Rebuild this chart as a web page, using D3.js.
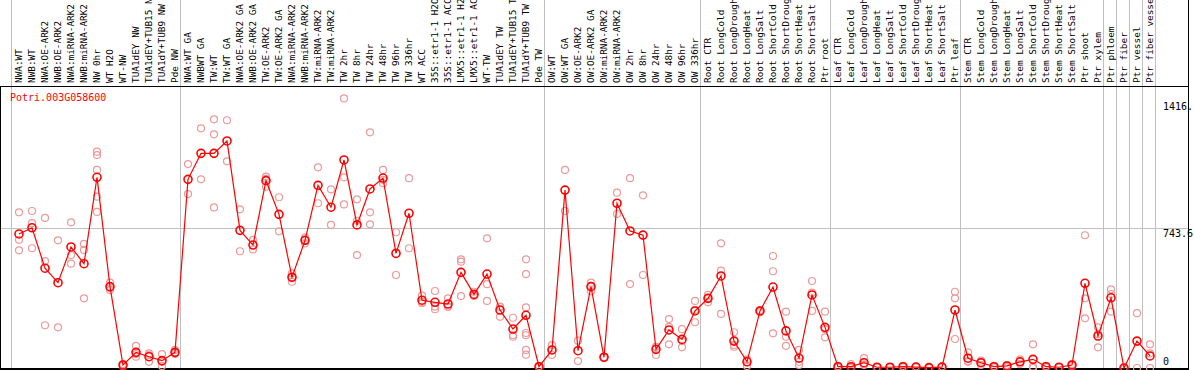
<html>
<head>
<style>
body { margin: 0; background: #ffffff; }
svg { display: block; }
svg text { font-family: "DejaVu Sans Mono", "Liberation Mono", monospace; }
.lab { font-size: 9.4px; fill: #000; }
.tick { font-size: 10px; fill: #000; }
.title { font-size: 10px; fill: #ff0000; }
</style>
<script src="https://cdn.jsdelivr.net/npm/d3@7"></script>
</head>
<body>
<svg width="1194" height="370"></svg>
<script>

var title = "Potri.003G058600";

var categories = [
  "NWA:WT", "NWB:WT", "NWA:OE-ARK2", "NWB:OE-ARK2", "NWA:miRNA-ARK2", "NWB:miRNA-ARK2",
  "NW 0hr", "WT H2O", "WT-NW", "TUA1dEY NW", "TUA1dEY+TUB15 NW", "TUA1dY+TUB9 NW", "Pde NW",
  "NWA:WT GA", "NWBWT GA", "TW:WT", "TW:WT GA", "NWA:OE-ARK2 GA", "NWB:OE-ARK2 GA",
  "TW:OE-ARK2", "TW:OE-ARK2 GA", "NWA:miRNA-ARK2 GA", "NWB:miRNA-ARK2 GA", "TW:miRNA-ARK2",
  "TW:miRNA-ARK2", "TW 2hr", "TW 8hr", "TW 24hr", "TW 48hr", "TW 96hr", "TW 336hr", "WT ACC",
  "35S::etr1-1 H2O", "35S::etr1-1 ACC", "LMX5::etr1-1 H2O", "LMX5::etr1-1 ACC", "WT-TW",
  "TUA1dEY TW", "TUA1dEY+TUB15 TW", "TUA1dY+TUB9 TW", "Pde TW",
  "OW:WT", "OW:WT GA", "OW:OE-ARK2", "OW:OE-ARK2 GA", "OW:miRNA-ARK2", "OW:miRNA-ARK2",
  "OW 2hr", "OW 8hr", "OW 24hr", "OW 48hr", "OW 96hr", "OW 336hr",
  "Root CTR", "Root LongCold", "Root LongDrought", "Root LongHeat", "Root LongSalt",
  "Root ShortCold", "Root ShortDrought", "Root ShortHeat", "Root ShortSalt", "Ptr root",
  "Leaf CTR", "Leaf LongCold", "Leaf LongDrought", "Leaf LongHeat", "Leaf LongSalt",
  "Leaf ShortCold", "Leaf ShortDrought", "Leaf ShortHeat", "Leaf ShortSalt", "Ptr leaf",
  "Stem CTR", "Stem LongCold", "Stem LongDrought", "Stem LongHeat", "Stem LongSalt",
  "Stem ShortCold", "Stem ShortDrought", "Stem ShortHeat", "Stem ShortSalt", "Ptr shoot",
  "Ptr xylem", "Ptr phloem", "Ptr fiber", "Ptr vessel", "Ptr fiber vessel"
];

// column index where each group starts (separators)
var groupStarts = [0, 13, 41, 53, 63, 73, 84, 85, 86, 87, 88];

var means = [
  712, 745, 530, 453, 643, 554, 1013, 432, 16, 83, 60, 39, 83,
  1002, 1140, 1140, 1206, 731, 653, 995, 816, 482, 678, 970, 854, 1105, 760, 951, 1009,
  609, 822, 360, 349, 340, 508, 391, 499, 308, 207, 280, 7,
  96, 945, 92, 432, 57, 875, 728, 706, 99, 202, 152, 303,
  370, 489, 143, 33, 303, 430, 197, 52, 388, 216,
  7, 7, 28, 4, 4, 7, 5, 2, 5, 308,
  52, 28, 7, 11, 33, 46, 7, 4, 16, 450, 170,
  373, 0, 143, 64
];

var replicates = [
  [827, 681, 625], [834, 769, 636], [797, 568, 227], [678, 216], [774, 600, 554],
  [659, 627, 370], [1149, 1131, 1052, 910, 829], [453, 425, 414], [21, 11, 16],
  [117, 60, 74], [78, 69, 33], [74, 32, 11], [96, 80, 74],
  [1083, 924], [1273, 1002], [1321, 1241, 853], [1316, 1098], [843, 620], [680, 630],
  [1016, 1004, 963], [907, 726], [503, 483, 458], [692, 680, 662], [1066, 875], [949, 760],
  [1432, 1013, 869], [896, 782, 600], [1252, 827, 763], [1052, 999, 981], [721, 494],
  [1008, 636], [384, 351, 344], [409, 326, 312], [370, 326, 324], [577, 565, 382],
  [405, 388, 382], [689, 445, 356], [326, 324, 272], [267, 175, 166],
  [577, 499, 322, 186, 174, 96, 71], [11, 5, 5],
  [122, 96, 69], [1052, 834], [145, 37], [453, 436, 407], [58, 57, 56], [931, 818],
  [1008, 446], [917, 494], [113, 112, 69], [260, 218, 126], [206, 143, 110], [356, 308, 243],
  [388, 372, 349], [662, 517, 287], [190, 122, 113], [46, 42, 11], [308, 303, 297],
  [595, 514, 184], [299, 166, 118], [96, 33, 16], [462, 400, 303], [299, 206, 163],
  [11, 5, 5], [21, 5, 0], [52, 19, 16], [5, 3, 3], [5, 3, 3], [11, 5, 5], [8, 5, 3],
  [3, 2, 1], [8, 5, 3], [405, 370, 154],
  [83, 37, 33], [39, 29, 16], [11, 5, 5], [16, 11, 5], [46, 33, 21], [126, 7, 0],
  [11, 5, 5], [5, 3, 3], [21, 16, 11], [705, 370, 264], [216, 181, 110],
  [418, 393, 299], [0, 0, 0], [291, 0], [126, 78, 0]
];

var yMax = 1487.2;
var gridValues = [743.6];
var tickValues = [1416, 743.6, 0];
var tickLabels = ["1416.", "743.6", "0"];

var svg = d3.select("svg"),
    width = +svg.attr("width"),
    height = +svg.attr("height");

var headerBottom = 86,
    plotRight = 1188;

var x = d3.scaleBand()
    .domain(d3.range(categories.length))
    .range([11, 1155])
    .paddingInner(0).paddingOuter(0);

var y = d3.scaleLinear()
    .domain([0, yMax])
    .range([368, 88]);

function cx(i) { return x(i) + 8; }

// grey separators, full height
svg.append("g").selectAll("line")
    .data(groupStarts)
    .enter().append("line")
    .attr("x1", function(d) { return d < categories.length ? x(d) : x.range()[1]; })
    .attr("x2", function(d) { return d < categories.length ? x(d) : x.range()[1]; })
    .attr("y1", 0).attr("y2", height)
    .attr("stroke", "#c0c0c0").attr("stroke-width", 1)
    .attr("shape-rendering", "crispEdges");

// horizontal grid
svg.append("g").selectAll("line")
    .data(gridValues)
    .enter().append("line")
    .attr("x1", 0).attr("x2", plotRight)
    .attr("y1", function(d) { return Math.round(y(d)) + 0.5; })
    .attr("y2", function(d) { return Math.round(y(d)) + 0.5; })
    .attr("stroke", "#c0c0c0");

// frame
svg.append("line").attr("x1", 0).attr("x2", plotRight).attr("y1", headerBottom + 0.5).attr("y2", headerBottom + 0.5)
    .attr("stroke", "#000");
svg.append("line").attr("x1", 0).attr("x2", plotRight).attr("y1", 369).attr("y2", 369)
    .attr("stroke", "#000").attr("stroke-width", 2);
svg.append("line").attr("x1", 0.5).attr("x2", 0.5).attr("y1", headerBottom).attr("y2", height)
    .attr("stroke", "#000");
svg.append("line").attr("x1", plotRight + 0.5).attr("x2", plotRight + 0.5).attr("y1", 0).attr("y2", height)
    .attr("stroke", "#000");

// column labels
svg.append("g").selectAll("text")
    .data(categories)
    .enter().append("text")
    .attr("class", "lab")
    .attr("transform", function(d, i) { return "translate(" + (cx(i) + 3) + "," + (headerBottom - 3) + ") rotate(-90)"; })
    .text(function(d) { return d; });

// replicate points
var reps = [];
replicates.forEach(function(r, i) { r.forEach(function(v) { reps.push({i: i, v: v}); }); });
svg.append("g").selectAll("circle")
    .data(reps)
    .enter().append("circle")
    .attr("cx", function(d) { return cx(d.i); })
    .attr("cy", function(d) { return y(d.v); })
    .attr("r", 3.5)
    .attr("fill", "none")
    .attr("stroke", "#ec9a9a")
    .attr("stroke-width", 1.2);

// mean line
var line = d3.line()
    .x(function(d, i) { return cx(i); })
    .y(function(d) { return y(d); });
svg.append("path")
    .datum(means)
    .attr("d", line)
    .attr("fill", "none")
    .attr("stroke", "#ff0000")
    .attr("stroke-width", 1.2);

svg.append("g").selectAll("circle")
    .data(means)
    .enter().append("circle")
    .attr("cx", function(d, i) { return cx(i); })
    .attr("cy", function(d) { return y(d); })
    .attr("r", 4)
    .attr("fill", "none")
    .attr("stroke", "#ff0000")
    .attr("stroke-width", 1.6);

// y labels on right
svg.append("g").selectAll("text")
    .data(tickValues)
    .enter().append("text")
    .attr("class", "tick")
    .attr("x", 1163)
    .attr("y", function(d) { return y(d); })
    .attr("dy", function(d) { return d === 0 ? -3 : 8.5; })
    .text(function(d, i) { return tickLabels[i]; });

svg.append("text")
    .attr("class", "title")
    .attr("x", 10)
    .attr("y", 101)
    .text(title);

</script>
</body>
</html>
